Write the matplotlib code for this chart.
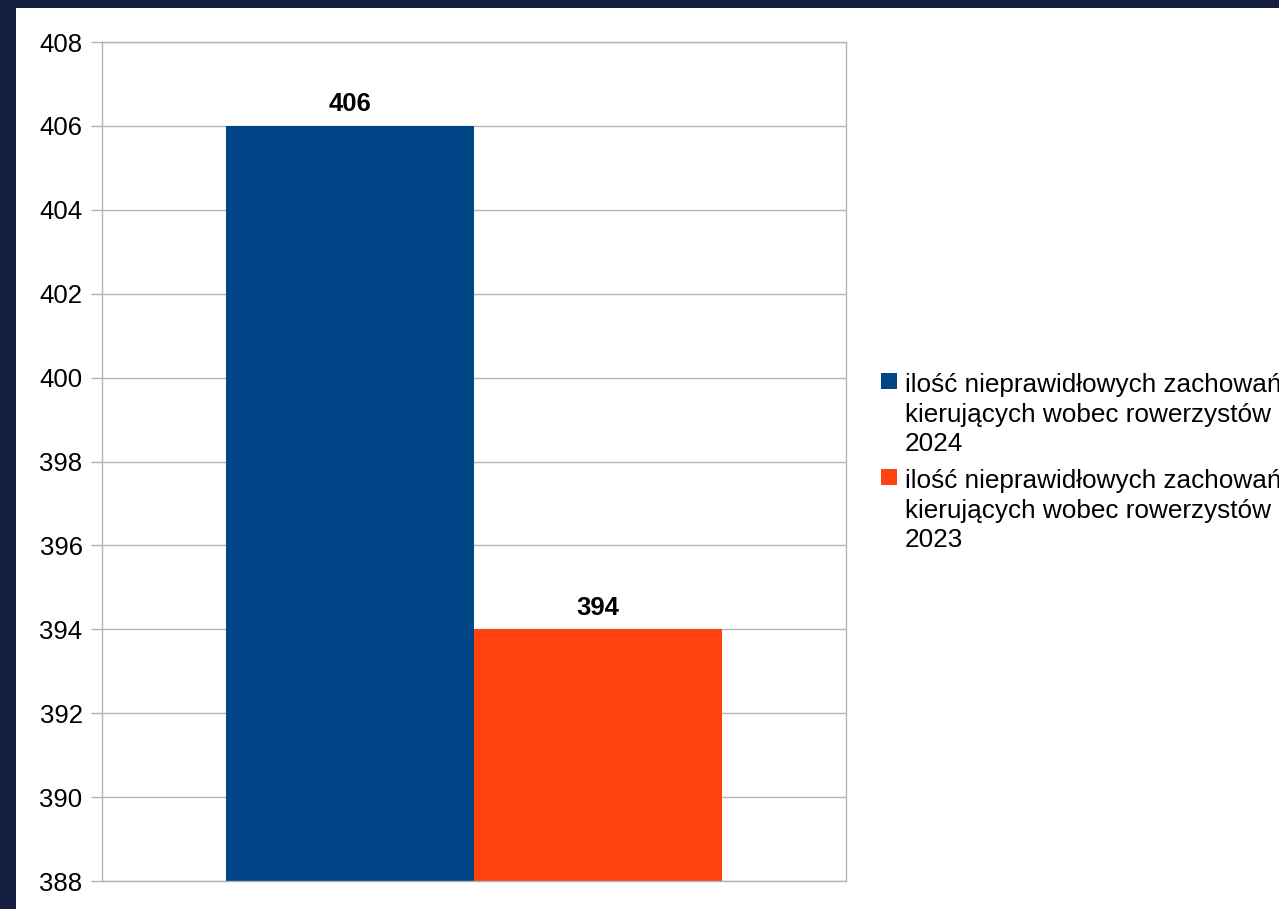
import matplotlib.pyplot as plt
from matplotlib.patches import Rectangle

# dane z wykresu
series_labels = [
    "ilość nieprawidłowych zachowań\nkierujących wobec rowerzystów\n2024",
    "ilość nieprawidłowych zachowań\nkierujących wobec rowerzystów\n2023",
]
series_values = [406, 394]
series_colors = ["#004586", "#ff420e"]
y_ticks = list(range(388, 409, 2))

plt.rcParams['font.family'] = ['Liberation Sans', 'DejaVu Sans']

W, H = 1279, 909
fig = plt.figure(figsize=(W / 100, H / 100), dpi=100)
fig.patch.set_facecolor("#141e3f")

# biale tlo (ramka granatowa z lewej i u gory)
fig.patches.append(Rectangle((16 / W, 0), 1 - 16 / W, (H - 8) / H,
                             transform=fig.transFigure, facecolor="white",
                             edgecolor="none", zorder=-5))

ax = fig.add_axes([102 / W, (H - 881) / H, 744 / W, 839 / H])
ax.set_facecolor("white")

width = 1 / 3
offsets = [-width / 2, width / 2]
for val, col, off in zip(series_values, series_colors, offsets):
    bars = ax.bar(off, val - 388, width=width, bottom=388, color=col, zorder=2)
    ax.bar_label(bars, labels=[str(val)], padding=7, fontsize=18.5,
                 fontweight='bold', color='black')

ax.set_xlim(-0.5, 0.5)
ax.set_ylim(388, 408)
ax.set_yticks(y_ticks)
ax.set_xticks([])
ax.grid(axis='y', color="#b3b3b3", linewidth=1)
ax.set_axisbelow(True)
ax.tick_params(axis='y', length=8, width=1, color="#b3b3b3", labelsize=18.5,
               pad=6, labelcolor='black')
for s in ax.spines.values():
    s.set_color("#b3b3b3")
    s.set_linewidth(1)

# legenda (kwadrat przy pierwszej linii opisu)
leg_y = [393, 489]
for lab, col, yb in zip(series_labels, series_colors, leg_y):
    fig.patches.append(Rectangle((881 / W, (H - yb + 4) / H), 16 / W, 16 / H,
                                 transform=fig.transFigure, facecolor=col,
                                 edgecolor="none"))
    fig.text(905 / W, (H - yb + 20) / H, lab, fontsize=18.8, va='top',
             ha='left', linespacing=1.3, color='black')

fig.savefig("out.png", dpi=100, facecolor=fig.get_facecolor())
